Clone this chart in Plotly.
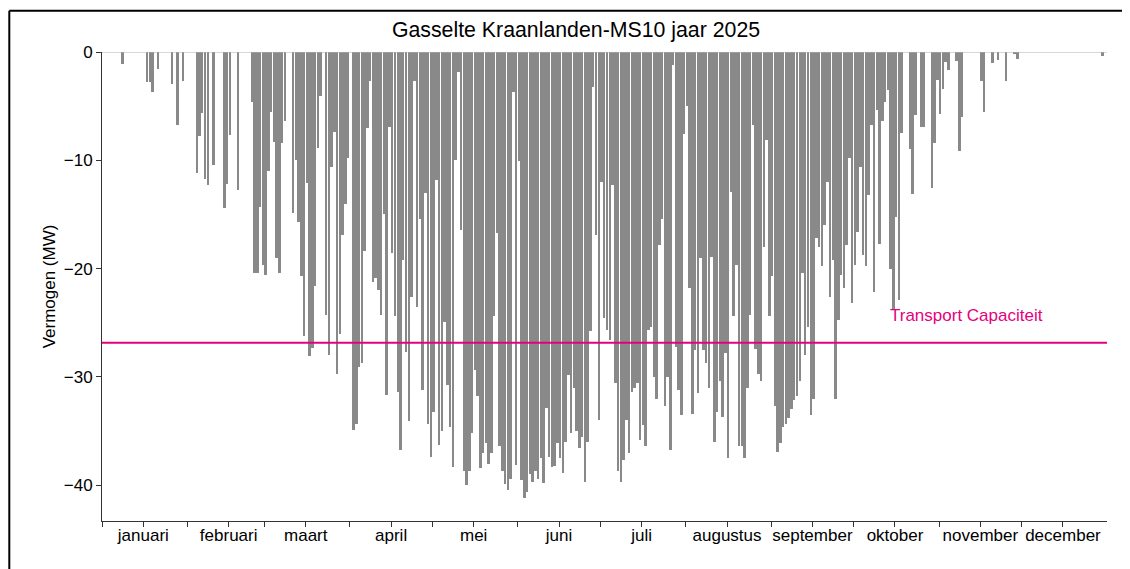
import plotly.graph_objects as go

# Daily most-negative power (MW), one list per month
jan = [0, 0, 0, 0, 0, 0, 0, -1.1, 0, 0, 0, 0, 0, 0, 0, 0, -2.8, -2.8, -3.7, 0,
       -1.6, 0, 0, 0, 0, -3.0, 0, -6.7, 0, -2.7, 0]
feb = [0, 0, 0, -11.2, -7.8, -5.6, -11.7, -12.3, 0, -10.4, 0, 0, 0, -14.4, -12.2,
       -7.7, 0, 0, -12.7, 0, 0, 0, 0, -4.6, -20.4, -20.4, -14.3, -19.7]
mar = [-20.6, -11.0, -5.5, -8.3, -19.0, -20.4, -8.4, -6.4, 0, 0, -14.9, -10.0,
       -15.7, -20.7, -26.2, -12.1, -28.1, -27.3, -21.6, -8.9, -4.1, 0, -24.3,
       -28.0, -10.6, -7.4, -29.7, -26.0, -16.9, -14.0, -9.8]
apr = [0, -34.9, -34.3, -29.1, -28.7, -18.4, -7.0, -2.7, -21.2, -20.9, -22.0,
       -24.3, -15.0, -31.7, -6.9, -18.6, -24.4, -31.4, -36.7, -19.2, -27.7,
       -34.1, -22.6, -2.7, -23.5, -15.4, -31.2, -13.0, -34.3, -37.4]
may = [-33.2, -11.8, -36.3, -35.0, -24.9, -30.7, -34.6, -38.3, -10.0, -1.8,
       -16.4, -38.7, -40.0, -38.7, -35.2, -29.4, -31.8, -38.4, -37.0, -36.1,
       -38.0, -37.0, -24.4, -16.7, -36.4, -38.7, -39.9, -40.4, -39.4, -3.7, -38.1]
jun = [-10.1, -39.5, -41.2, -40.6, -39.0, -39.7, -38.7, -39.4, -37.5, -39.8,
       -32.9, -37.4, -38.3, -38.2, -36.1, -37.5, -38.9, -36.0, -29.8, -35.2,
       -31.0, -35.0, -36.6, -35.5, -39.7, -36.0, -25.8, -3.2, -16.9, -34.0]
jul = [-12.0, -24.6, -25.7, -26.6, -12.3, -30.6, -38.7, -39.7, -37.7, -34.0,
       -37.0, -31.4, -31.0, -30.6, -35.8, -34.4, -36.4, -25.7, -25.4, -30.0,
       -32.0, -17.8, -15.4, -32.7, -30.0, -36.7, -1.2, -27.2, -31.2, -33.5, -7.6]
aug = [-5.0, -21.8, -33.4, -27.5, -31.5, -19.0, -27.5, -28.7, -31.0, -18.9,
       -36.0, -33.2, -30.4, -33.7, -27.8, -37.5, -12.9, -24.4, -19.7, -36.4,
       -36.4, -37.5, -31.0, -24.3, -6.7, -27.4, -29.7, -30.4, -18.0, -8.1, -24.4]
sep = [-20.7, -32.7, -36.9, -36.1, -34.6, -34.3, -33.8, -33.0, -32.1, -31.8,
       -30.4, -20.4, -28.0, -25.4, -33.5, -32.0, -17.2, -18.0, -19.8, -16.0,
       -12.0, -22.6, -19.2, -32.0, -24.7, -20.6, -21.8, -17.8, -9.8, -23.2]
okt = [-19.7, -16.6, -10.6, -18.7, -19.8, -13.2, -6.7, -22.2, -5.4, -17.7,
       -6.4, -4.6, -3.5, -20.0, -23.7, -15.2, -22.9, -7.5, 0, 0, -9.0, -13.1,
       -5.8, 0, -6.9, -6.9, 0, 0, -12.6, -8.4, -2.6]
nov = [-5.7, -3.4, -0.9, -1.7, 0, 0, -0.8, -9.1, -6.0, 0, 0, 0, 0, 0, 0,
       -2.7, -5.5, 0, 0, -1.0, 0, -0.7, 0, 0, -2.7, 0, 0, -0.1, -0.65, 0]
dec = [0] * 29 + [-0.4, 0]

month_names = ["januari", "februari", "maart", "april", "mei", "juni", "juli",
               "augustus", "september", "oktober", "november", "december"]
transport_capaciteit = -26.85

months = [jan, feb, mar, apr, may, jun, jul, aug, sep, okt, nov, dec]
values = [v for m in months for v in m]
days = [i + 0.5 for i in range(len(values))]
month_starts = []
acc = 0
for m in months:
    month_starts.append(acc)
    acc += len(m)
month_mid = [s + 15 for s in month_starts]

FONT = "Liberation Sans, Arial, sans-serif"
PINK = "#e6007e"

# page has an 8px body margin; plot area target: x 102..1107, y 52..521 (page px)
OFF = 8
L, T = 102 - OFF, 52 - OFF
R = 1130 - (1107 - OFF)
B = 569 - (521 - OFF)
PW, PH = 1107 - 102, 521 - 52

fig = go.Figure()
fig.add_trace(go.Bar(x=days, y=values, width=0.72,
                     marker=dict(color="#898989", line=dict(width=0)),
                     hoverinfo="skip", showlegend=False))

fig.update_layout(
    width=1130, height=569, autosize=False,
    margin=dict(l=L, r=R, t=T, b=B),
    paper_bgcolor="white", plot_bgcolor="white",
    font=dict(family=FONT, size=17, color="black"),
    title=dict(text="Gasselte Kraanlanden-MS10 jaar 2025", font=dict(size=21.3, color="black"),
               xref="container", x=(576 - OFF) / 1130, xanchor="center",
               yref="container", y=1 - (30 - OFF) / 569, yanchor="middle"),
    bargap=0,
)
fig.update_xaxes(range=[0, acc], showgrid=False, zeroline=False,
                 showline=True, linecolor="#333333", linewidth=1,
                 ticks="outside", ticklen=5, tickcolor="#333333",
                 tickmode="array", tickvals=month_mid, ticktext=month_names,
                 tickfont=dict(size=17, color="black"), ticklabelstandoff=-6,
                 minor=dict(tickmode="array", tickvals=month_starts, ticks="outside",
                            ticklen=5, tickcolor="#333333", showgrid=False))
fig.update_yaxes(range=[-43.3, 0], showgrid=False, zeroline=False,
                 showline=True, linecolor="#333333", linewidth=1,
                 ticks="outside", ticklen=5, tickcolor="#333333",
                 tickmode="array", tickvals=[0, -10, -20, -30, -40],
                 tickfont=dict(size=17, color="black"),
                 title=dict(text="Vermogen (MW)", font=dict(size=17, color="black"), standoff=3))

# zero baseline
fig.add_shape(type="line", xref="paper", yref="y", x0=0, x1=1, y0=0, y1=0,
              line=dict(color="#b0b0b0", width=1))
# transport capacity line
fig.add_shape(type="line", xref="paper", yref="y", x0=0, x1=1,
              y0=transport_capaciteit, y1=transport_capaciteit,
              line=dict(color=PINK, width=2))
fig.add_annotation(x=314.1, y=-24.35, xref="x", yref="y", text="Transport Capaciteit",
                   showarrow=False, font=dict(color=PINK, size=17, family=FONT),
                   xanchor="center", yanchor="middle")

# outer frame lines (top and left), page px -> paper coords
top_y = (521 - 10.7) / PH
left_x = (9.3 - 102) / PW
fig.add_shape(type="line", xref="paper", yref="paper", x0=left_x, x1=1.05,
              y0=top_y, y1=top_y, line=dict(color="black", width=2))
fig.add_shape(type="line", xref="paper", yref="paper", x0=left_x, x1=left_x,
              y0=top_y, y1=-0.12, line=dict(color="black", width=2))

fig.write_html("out.html")
